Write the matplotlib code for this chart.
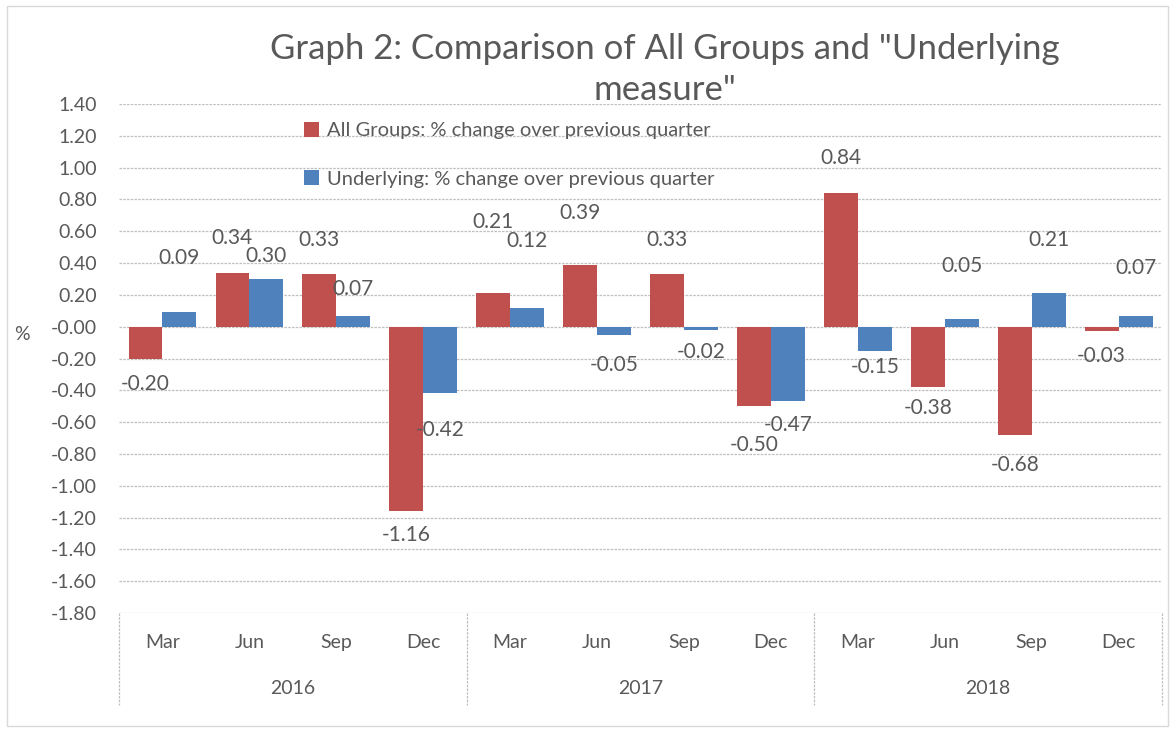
import numpy as np
import matplotlib.pyplot as plt
from matplotlib.patches import Rectangle
from matplotlib.lines import Line2D
import matplotlib.transforms as mtransforms

plt.rcParams['font.family'] = ['Lato', 'DejaVu Sans']

months = ['Mar', 'Jun', 'Sep', 'Dec'] * 3
years = ['2016', '2017', '2018']
all_groups = [-0.20, 0.34, 0.33, -1.16, 0.21, 0.39, 0.33, -0.50, 0.84, -0.38, -0.68, -0.03]
underlying = [0.09, 0.30, 0.07, -0.42, 0.12, -0.05, -0.02, -0.47, -0.15, 0.05, 0.21, 0.07]
y_ticks = np.arange(-1.8, 1.41, 0.2)

# label distance from bar end (pixels), labels were hand-placed in the original
gap_all = [25, 35, 34, 24, 71, 52, 34, 39, 35, 21, 30, 25]
gap_und = [54, 23, 27, 37, 67, 30, 22, 24, 16, 53, 53, 48]

red = '#C0504D'
blue = '#4F81BD'
txt = '#595959'
grid = '#BFBFBF'

fig = plt.figure(figsize=(11.75, 7.30), dpi=100)
ax = fig.add_axes([0.1013, 0.1603, 0.8877, 0.6972])

x = np.arange(len(months))
w = 0.39
b1 = ax.bar(x - w / 2, all_groups, w, color=red, label='All Groups: % change over previous quarter', zorder=3)
b2 = ax.bar(x + w / 2, underlying, w, color=blue, label='Underlying: % change over previous quarter', zorder=3)

for bars, vals, gaps in ((b1, all_groups, gap_all), (b2, underlying, gap_und)):
    for r, v, g in zip(bars, vals, gaps):
        cx = r.get_x() + r.get_width() / 2
        dy = g if v >= 0 else -g
        ax.annotate(f'{v:.2f}', (cx, v), xytext=(0, dy), textcoords='offset pixels',
                    ha='center', va='center', fontsize=15, color=txt)

ax.set_xlim(-0.5, len(months) - 0.5)
ax.set_ylim(-1.8, 1.4)
ax.set_yticks(y_ticks)
ax.set_yticklabels([f'{t:.2f}' for t in y_ticks], fontsize=14, color=txt)
ax.tick_params(axis='y', length=0, pad=16)
ax.set_xticks(x)
ax.set_xticklabels(months, fontsize=14, color=txt)
ax.tick_params(axis='x', length=0, pad=15)
for t in y_ticks:
    ax.axhline(t, color=grid, lw=0.9, ls=(0, (2, 1)), zorder=1)
for s in ax.spines.values():
    s.set_visible(False)

# category box below the plot
trans = mtransforms.blended_transform_factory(ax.transData, ax.transAxes)
for xb in [-0.5, 3.5, 7.5, 11.5]:
    ax.add_line(Line2D([xb, xb], [0, -0.181], transform=trans, color=grid, lw=0.9,
                       ls=(0, (2, 1)), clip_on=False))
for i, yr in enumerate(years):
    ax.text(4 * i + 1.5, -0.148, yr, transform=trans, ha='center', va='center',
            fontsize=14, color=txt)

ax.set_ylabel('%', rotation=0, fontsize=14, color=txt)
ax.yaxis.set_label_coords(-0.093, 0.53)

fig.text(0.566, 0.905, 'Graph 2: Comparison of All Groups and "Underlying\nmeasure"',
         ha='center', va='center', fontsize=25, color=txt, linespacing=1.35)

ax.legend(loc='upper left', bbox_to_anchor=(0.243, 0.858), bbox_transform=fig.transFigure,
          frameon=False, fontsize=14.5, labelcolor=txt, handlelength=0.75, handleheight=0.75,
          handletextpad=0.4, labelspacing=1.55)

fig.patches.append(Rectangle((0.006, 0.005), 0.988, 0.987, transform=fig.transFigure,
                             fill=False, edgecolor='#D9D9D9', lw=1))

fig.savefig('out.png', dpi=100)
